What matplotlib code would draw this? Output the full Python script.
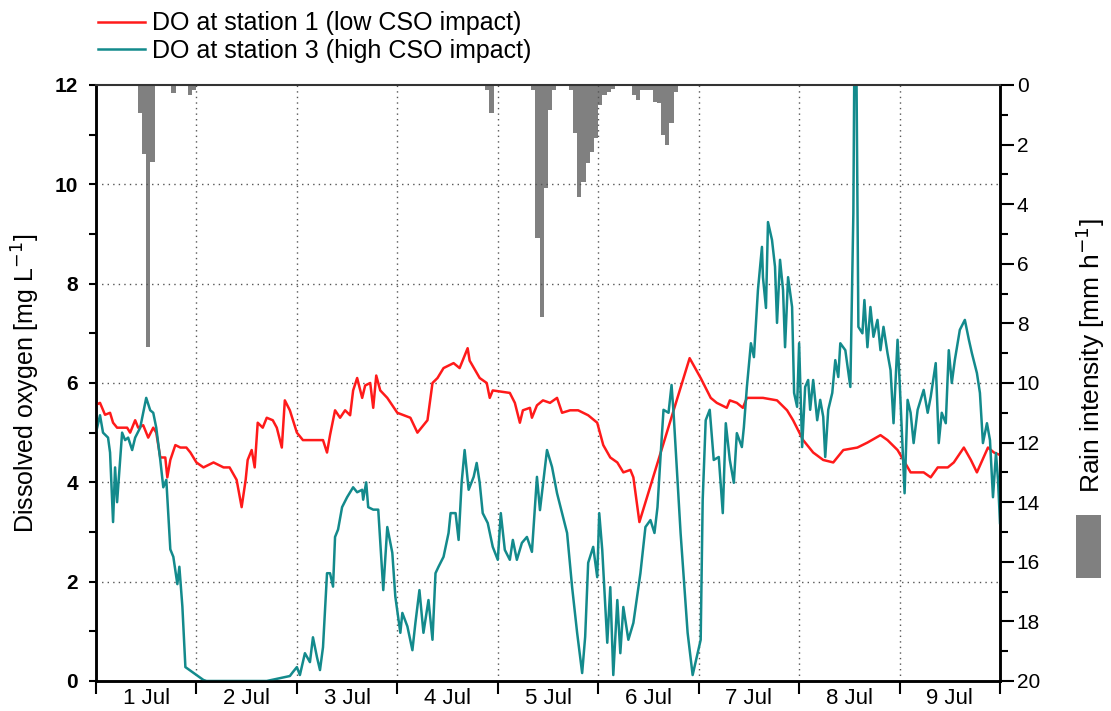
import matplotlib
matplotlib.use("Agg")
import matplotlib.pyplot as plt
from matplotlib.patches import Rectangle
from matplotlib.ticker import MultipleLocator, FixedLocator, NullFormatter

plt.rcParams['font.family'] = ['Liberation Sans', 'DejaVu Sans']

# time in days since 1 Jul 00:00
red_t = [0.0, 0.04, 0.09, 0.14, 0.17, 0.21, 0.31, 0.34, 0.39, 0.42, 0.47, 0.52, 0.57, 0.60,
         0.64, 0.69, 0.71, 0.74, 0.79, 0.84, 0.90, 0.94, 1.00, 1.07, 1.17, 1.27, 1.33, 1.40,
         1.45, 1.49, 1.51, 1.55, 1.58, 1.61, 1.66, 1.70, 1.76, 1.80, 1.85, 1.88, 1.93, 2.00,
         2.06, 2.26, 2.30, 2.33, 2.38, 2.43, 2.48, 2.53, 2.56, 2.60, 2.65, 2.68, 2.73, 2.76,
         2.79, 2.83, 2.90, 3.00, 3.13, 3.20, 3.30, 3.35, 3.40, 3.46, 3.56, 3.62, 3.70, 3.72,
         3.82, 3.89, 3.92, 3.95, 4.12, 4.17, 4.22, 4.25, 4.32, 4.34, 4.39, 4.45, 4.52, 4.59,
         4.64, 4.72, 4.80, 4.90, 4.99, 5.05, 5.12, 5.19, 5.25, 5.32, 5.35, 5.41, 5.91, 6.02,
         6.12, 6.18, 6.28, 6.31, 6.38, 6.44, 6.48, 6.64, 6.78, 6.88, 6.94, 7.04, 7.14, 7.24,
         7.34, 7.44, 7.58, 7.68, 7.81, 7.88, 7.98, 8.11, 8.24, 8.31, 8.38, 8.48, 8.54, 8.64,
         8.71, 8.77, 8.88, 8.94, 9.00]
red_do = [5.56, 5.6, 5.36, 5.4, 5.2, 5.1, 5.1, 5.0, 5.25, 5.1, 5.15, 4.9, 5.1, 5.0,
          4.5, 4.5, 4.1, 4.45, 4.75, 4.7, 4.7, 4.6, 4.4, 4.3, 4.4, 4.3, 4.3, 4.05,
          3.5, 4.05, 4.45, 4.65, 4.3, 5.2, 5.1, 5.3, 5.25, 5.1, 4.7, 5.65, 5.45, 5.0,
          4.85, 4.85, 4.6, 4.95, 5.45, 5.3, 5.45, 5.35, 5.85, 6.1, 5.7, 5.95, 6.0, 5.5,
          6.15, 5.85, 5.7, 5.4, 5.3, 5.0, 5.25, 6.0, 6.1, 6.3, 6.4, 6.3, 6.7, 6.45,
          6.1, 6.0, 5.7, 5.85, 5.8, 5.6, 5.2, 5.45, 5.5, 5.3, 5.55, 5.65, 5.6, 5.7,
          5.4, 5.45, 5.45, 5.35, 5.2, 4.75, 4.5, 4.4, 4.2, 4.25, 4.1, 3.2, 6.5, 6.1,
          5.7, 5.6, 5.5, 5.65, 5.6, 5.5, 5.7, 5.7, 5.65, 5.45, 5.25, 4.85, 4.6, 4.45,
          4.4, 4.65, 4.7, 4.8, 4.95, 4.85, 4.65, 4.2, 4.2, 4.1, 4.3, 4.3, 4.4, 4.7,
          4.45, 4.2, 4.7, 4.6, 4.55]

teal_t = [0.0, 0.04, 0.07, 0.12, 0.14, 0.17, 0.19, 0.21, 0.24, 0.26, 0.29, 0.32, 0.36, 0.39,
          0.44, 0.47, 0.50, 0.54, 0.57, 0.60, 0.64, 0.67, 0.70, 0.74, 0.77, 0.81, 0.83, 0.86,
          0.89, 1.07, 1.10, 1.70, 1.93, 1.96, 2.00, 2.03, 2.08, 2.13, 2.16, 2.20, 2.23, 2.26,
          2.30, 2.33, 2.36, 2.38, 2.41, 2.45, 2.50, 2.56, 2.60, 2.65, 2.66, 2.69, 2.71, 2.76,
          2.81, 2.86, 2.90, 2.95, 2.98, 3.03, 3.05, 3.10, 3.15, 3.18, 3.22, 3.26, 3.31, 3.35,
          3.38, 3.41, 3.46, 3.51, 3.53, 3.58, 3.61, 3.64, 3.67, 3.71, 3.76, 3.79, 3.82, 3.85,
          3.90, 3.95, 4.00, 4.03, 4.07, 4.12, 4.15, 4.19, 4.24, 4.29, 4.34, 4.39, 4.42, 4.49,
          4.54, 4.59, 4.64, 4.69, 4.74, 4.79, 4.84, 4.87, 4.90, 4.95, 4.99, 5.01, 5.04, 5.09,
          5.12, 5.15, 5.19, 5.22, 5.25, 5.30, 5.35, 5.42, 5.47, 5.52, 5.56, 5.59, 5.62, 5.65,
          5.70, 5.73, 5.75, 5.82, 5.89, 5.94, 5.99, 6.02, 6.04, 6.07, 6.11, 6.15, 6.20, 6.24,
          6.27, 6.31, 6.35, 6.38, 6.43, 6.45, 6.48, 6.52, 6.55, 6.59, 6.63, 6.64, 6.67, 6.69,
          6.73, 6.76, 6.78, 6.81, 6.84, 6.86, 6.89, 6.93, 6.95, 6.98, 7.00, 7.03, 7.06, 7.09,
          7.11, 7.14, 7.18, 7.21, 7.24, 7.26, 7.29, 7.33, 7.36, 7.39, 7.41, 7.46, 7.51, 7.54,
          7.55, 7.57, 7.59, 7.63, 7.65, 7.68, 7.71, 7.74, 7.78, 7.81, 7.84, 7.88, 7.91, 7.94,
          7.98, 8.00, 8.03, 8.05, 8.08, 8.11, 8.14, 8.18, 8.21, 8.24, 8.28, 8.31, 8.36, 8.39,
          8.42, 8.46, 8.49, 8.52, 8.55, 8.60, 8.65, 8.69, 8.72, 8.77, 8.80, 8.83, 8.87, 8.90,
          8.93, 8.96, 8.98, 9.00]
teal_do = [5.0, 5.35, 5.0, 4.9, 4.6, 3.2, 4.3, 3.6, 4.45, 5.0, 4.85, 4.9, 4.65, 4.9,
           5.1, 5.4, 5.7, 5.45, 5.4, 5.1, 4.45, 3.9, 4.05, 2.65, 2.5, 1.95, 2.3, 1.5,
           0.28, 0.02, 0.0, 0.0, 0.1, 0.18, 0.28, 0.12, 0.56, 0.38, 0.88, 0.48, 0.22, 0.68,
           2.17, 2.17, 1.9, 2.9, 3.05, 3.5, 3.7, 3.9, 3.8, 3.85, 3.65, 4.0, 3.5, 3.45,
           3.45, 1.83, 3.1, 2.58, 1.7, 0.97, 1.37, 1.1, 0.62, 1.17, 1.83, 0.97, 1.63, 0.83,
           2.17, 2.3, 2.5, 2.98, 3.38, 3.38, 2.84, 3.99, 4.65, 3.85, 4.11, 4.39, 3.99, 3.38,
           3.18, 2.7, 2.44, 3.38, 2.64, 2.44, 2.84, 2.44, 2.78, 2.9, 2.6, 4.11, 3.44, 4.65,
           4.31, 3.78, 3.38, 2.98, 1.89, 0.97, 0.16, 0.89, 2.38, 2.7, 2.09, 3.38, 2.64, 0.77,
           1.89, 0.12, 1.63, 0.56, 1.49, 0.83, 1.17, 2.17, 3.1, 3.24, 2.98, 3.5, 4.51, 5.46,
           5.4, 5.96, 5.4, 2.98, 0.97, 0.12, 0.56, 0.83, 3.64, 5.25, 5.46, 4.45, 4.51, 3.38,
           5.19, 4.45, 3.99, 4.99, 4.71, 5.11, 5.92, 6.8, 6.52, 7.87, 8.74, 8.13, 7.51, 9.24,
           8.88, 8.34, 7.21, 8.48, 7.87, 6.72, 8.13, 7.53, 5.8, 5.52, 6.8, 4.71, 5.92, 6.06,
           5.46, 6.06, 5.25, 5.66, 5.32, 4.51, 5.46, 5.8, 6.46, 6.12, 6.8, 6.66, 5.92, 9.42,
           12.5, 12.5, 7.13, 7.0, 7.67, 6.72, 7.53, 6.93, 7.27, 6.66, 7.13, 6.6, 6.26, 5.19,
           6.87, 6.06, 4.71, 3.78, 5.66, 5.4, 4.79, 5.46, 5.66, 5.86, 5.4, 5.72, 6.4, 4.79,
           5.4, 5.19, 6.66, 6.0, 6.46, 7.07, 7.27, 6.87, 6.6, 6.2, 5.8, 4.79, 5.19, 4.85,
           3.7, 4.59, 4.05, 3.18]

# hourly rain, hour index since 1 Jul 00:00
rain_hour = [10, 11, 12, 13, 18, 22, 23, 93, 94,
             104, 105, 106, 107, 108, 109,
             113, 114, 115, 116, 117, 118, 119, 120, 121, 122, 123,
             128, 129, 130, 131, 132, 133, 134, 135, 136, 137, 138]
rain_mm = [0.95, 2.3, 8.8, 2.6, 0.27, 0.33, 0.17, 0.17, 0.94,
           0.17, 5.13, 7.8, 3.46, 0.84, 0.17,
           0.17, 1.6, 3.76, 3.25, 2.62, 2.25, 1.78, 0.67, 0.34, 0.22, 0.12,
           0.34, 0.5, 0.17, 0.17, 0.17, 0.57, 0.6, 1.68, 2.0, 1.28, 0.22]

day_labels = ['1 Jul', '2 Jul', '3 Jul', '4 Jul', '5 Jul', '6 Jul', '7 Jul', '8 Jul', '9 Jul']

fig = plt.figure(figsize=(11.11, 7.11), dpi=100)
ax = fig.add_axes([0.0864, 0.0422, 0.8137, 0.8383])
ax2 = ax.twinx()

ax2.bar([h / 24 for h in rain_hour], rain_mm, width=1 / 24, align='edge',
        color='#808080', edgecolor='none')
ax2.set_ylim(20, 0)
ax2.yaxis.set_major_locator(MultipleLocator(2))
ax2.yaxis.set_minor_locator(MultipleLocator(1))
ax2.tick_params(axis='y', which='major', direction='out', length=10, width=1.5, labelsize=15, pad=2)
ax2.tick_params(axis='y', which='minor', direction='out', length=6, width=1.5)

ax.set_zorder(ax2.get_zorder() + 1)
ax.patch.set_visible(False)

l1, = ax.plot(red_t, red_do, color='#ff1a1a', lw=1.8, label='DO at station 1 (low CSO impact)')
l2, = ax.plot(teal_t, teal_do, color='#138a8c', lw=1.8, label='DO at station 3 (high CSO impact)')

ax.set_xlim(0, 9)
ax.set_ylim(0, 12)
ax.xaxis.set_major_locator(MultipleLocator(1))
ax.xaxis.set_major_formatter(NullFormatter())
ax.xaxis.set_minor_locator(FixedLocator([i + 0.5 for i in range(9)]))
ax.set_xticklabels(day_labels, minor=True)
ax.tick_params(axis='x', which='major', direction='out', length=9, width=1.5)
ax.tick_params(axis='x', which='minor', length=0, labelsize=16, pad=5)
ax.yaxis.set_major_locator(MultipleLocator(2))
ax.yaxis.set_minor_locator(MultipleLocator(1))
ax.tick_params(axis='y', which='both', direction='out', length=5, width=1.5, labelsize=15, pad=8)
for lab in ax.get_yticklabels():
    lab.set_fontweight('bold')

for y in [2, 4, 6, 8, 10]:
    ax.axhline(y, color='#555555', lw=1, ls=(0, (1, 3)), zorder=0)
for x in range(1, 9):
    ax.axvline(x, color='#555555', lw=1, ls=(0, (1, 3)), zorder=0)

for sp in ['left', 'bottom', 'right']:
    ax.spines[sp].set_linewidth(1.8)
    ax2.spines[sp].set_linewidth(1.8)
ax.spines['top'].set_linewidth(1.5)
ax.spines['top'].set_color('#333333')
ax2.spines['top'].set_visible(False)

ax.set_ylabel('Dissolved oxygen [mg L$^{-1}$]', fontsize=18, labelpad=9)

fig.legend(handles=[l1, l2], loc='upper left', bbox_to_anchor=(0.079, 0.998),
           frameon=False, fontsize=18, handlelength=1.9, handletextpad=0.25,
           labelspacing=0.15, borderaxespad=0)

fig.text(0.981, 0.50, 'Rain intensity [mm h$^{-1}$]', rotation=90, fontsize=19,
         ha='center', va='center')
fig.patches.append(Rectangle((0.9685, 0.187), 0.0225, 0.088, transform=fig.transFigure,
                             facecolor='#808080', edgecolor='none'))

fig.savefig('out.png', dpi=100)
